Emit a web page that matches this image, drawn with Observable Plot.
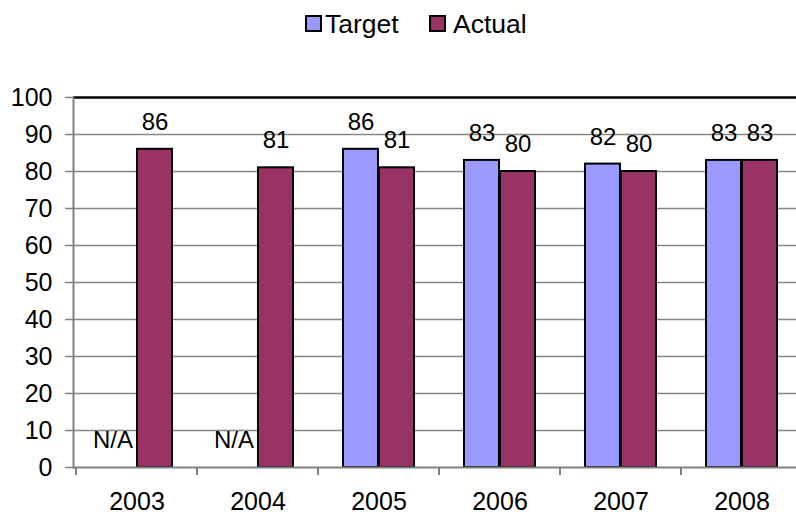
<!DOCTYPE html>
<html><head><meta charset="utf-8">
<script src="https://cdn.jsdelivr.net/npm/d3@7"></script>
<script src="https://cdn.jsdelivr.net/npm/@observablehq/plot@0.6"></script>
<style>
html,body{margin:0;padding:0;background:#fff;overflow:hidden;}
#wrap{position:relative;width:796px;height:515px;font-family:"Liberation Sans",Arial,sans-serif;}
#legend{position:absolute;left:0;top:0;width:796px;height:48px;z-index:2;}
#legend .sw{position:absolute;top:15px;width:17px;height:17px;box-sizing:border-box;border:2px solid #000;}
#legend .lab{position:absolute;top:11px;font-size:26.5px;line-height:26.5px;color:#000;white-space:nowrap;}
</style></head><body><div id="wrap"><div id="legend"></div></div>
<script>
const years = ["2003","2004","2005","2006","2007","2008"];
const target = [null, null, 86, 83, 82, 83];
const actual = [86, 81, 81, 80, 80, 83];
const seriesNames = ["Target", "Actual"];
const seriesColors = ["#9999FF", "#993366"];
const yTicks = [0, 10, 20, 30, 40, 50, 60, 70, 80, 90, 100];
const naLabel = "N/A";

const rows = years.map((year, i) => ({year, target: target[i], actual: actual[i]}));

// legend (HTML, above the SVG)
const legend = document.getElementById("legend");
const legendLeft = [305, 429];
seriesNames.forEach((name, i) => {
  const sw = document.createElement("div");
  sw.className = "sw";
  sw.style.left = legendLeft[i] + "px";
  sw.style.background = seriesColors[i];
  const t = document.createElement("span");
  t.className = "lab";
  t.style.left = (legendLeft[i] + 20 + (i ? 4 : 0)) + "px";
  t.textContent = name;
  legend.appendChild(sw); legend.appendChild(t);
});

// ticks at the band boundaries below the x axis
function boundaryTicks(...args) {
  const scales = args.find(a => a && typeof a.x === "function" && typeof a.y === "function");
  const x = scales.x, y = scales.y;
  const bw = x.bandwidth ? x.bandwidth() : 0;
  const edges = years.map(d => x(d)).concat([x(years[years.length - 1]) + bw]);
  const g = d3.create("svg:g").attr("stroke", "#808080").attr("stroke-width", 2);
  const y0 = y(0);
  edges.forEach(e => g.append("line").attr("x1", e).attr("x2", e).attr("y1", y0).attr("y2", y0 + 8));
  return g.node();
}

const font = "'Liberation Sans', Arial, sans-serif";

const chart = Plot.plot({
  width: 796,
  height: 515,
  marginLeft: 73,
  marginRight: -8,
  marginTop: 97,
  marginBottom: 48,
  style: {fontFamily: font, fontSize: "25px", color: "#000", background: "#fff"},
  x: {domain: years, padding: 0, label: null},
  y: {domain: [0, 100], label: null},
  marks: [
    Plot.ruleY(yTicks.filter(v => v > 0 && v < 100), {stroke: "#868686", strokeWidth: 1.5}),
    Plot.barY(rows.filter(d => d.target != null), {x: "year", y: "target", fill: seriesColors[0], stroke: "#000", strokeWidth: 2, insetLeft: 25, insetRight: 61}),
    Plot.barY(rows, {x: "year", y: "actual", fill: seriesColors[1], stroke: "#000", strokeWidth: 2, insetLeft: 61, insetRight: 25}),
    Plot.ruleY([100], {stroke: "#000", strokeWidth: 2.5}),
    Plot.ruleY([0], {stroke: "#808080", strokeWidth: 2}),
    Plot.frame({anchor: "left", stroke: "#808080", strokeWidth: 2}),
    Plot.axisY({ticks: yTicks, tickSize: 8, tickPadding: 13, stroke: "#808080", strokeWidth: 1.5, fontSize: 25, tickFormat: d => String(d)}),
    Plot.axisX({tickSize: 0, tickPadding: 25, fontSize: 25}),
    boundaryTicks,
    Plot.text(rows.filter(d => d.target != null), {x: "year", y: "target", text: d => String(d.target), dx: -18, dy: -27, fontSize: 24, fill: "#000"}),
    Plot.text(rows.filter(d => d.target == null), {x: "year", y: () => 0, text: () => naLabel, dx: -4, dy: -27, textAnchor: "end", fontSize: 24, fill: "#000"}),
    Plot.text(rows, {x: "year", y: "actual", text: d => String(d.actual), dx: 18, dy: -27, fontSize: 24, fill: "#000"})
  ]
});
document.getElementById("wrap").appendChild(chart);
</script>
</body></html>
